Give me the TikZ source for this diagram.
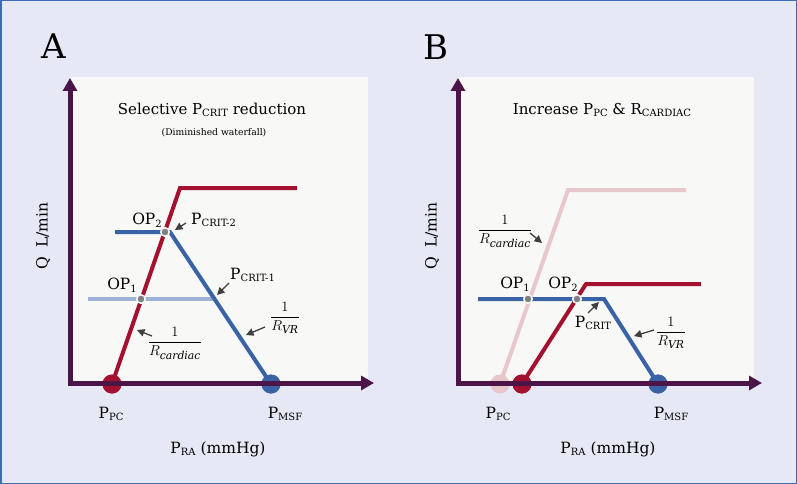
\documentclass[tikz,border=0pt]{standalone}
\usepackage{fontspec}
\setmainfont{DejaVu Serif}
\usepackage{amsmath}
\usetikzlibrary{arrows.meta}
\definecolor{bgc}{HTML}{E6E9F5}
\definecolor{panelc}{HTML}{F8F8F7}
\definecolor{framec}{HTML}{3F6DB3}
\definecolor{axisc}{HTML}{4C1548}
\definecolor{redc}{HTML}{A3112F}
\definecolor{bluec}{HTML}{3A62A7}
\definecolor{lbluec}{HTML}{9DB2D6}
\definecolor{pinkc}{HTML}{E8C7CA}
\definecolor{dotc}{HTML}{808080}
\definecolor{arrc}{HTML}{404040}
\newcommand\lblfont{\fontsize{15.5}{17}\selectfont}
\newcommand\mysub[1]{\raisebox{-0.35ex}{\fontsize{10}{11}\selectfont #1}}
\tikzset{
  axis/.style={draw=axisc, line width=5pt, {Triangle[length=13pt,width=14pt]}-{Triangle[length=13pt,width=14pt]}},
  redline/.style={draw=redc, line width=4pt},
  blueline/.style={draw=bluec, line width=4pt},
  lblueline/.style={draw=lbluec, line width=4pt},
  pinkline/.style={draw=pinkc, line width=4pt},
  bigdot/.style={circle, minimum size=19pt, inner sep=0pt, fill=#1},
  opdot/.style={circle, minimum size=8.5pt, inner sep=0pt, fill=dotc, draw=panelc, line width=1.5pt},
  lbl/.style={font=\lblfont, inner sep=1pt},
  ann/.style={draw=arrc, line width=1.3pt, -{Triangle[length=7.5pt,width=7.5pt]}},
  panel/.style={fill=panelc, draw=none},
}
\begin{document}
\begin{tikzpicture}[x=1pt,y=-1pt]
\useasboundingbox (0,0) rectangle (797,484);
\fill[bgc] (0,0) rectangle (797,484);
\draw[framec, line width=1.5pt] (0.75,0.75) rectangle (796.25,483.25);

% ---------------- Panel A ----------------
\fill[panel] (70,77) rectangle (368,383);
\node[font=\fontsize{34}{36}\selectfont] (labA) at (54,46) {A};
\node[font=\fontsize{15}{17}\selectfont] (titA) at (212,110) {Selective P\mysub{CRIT} reduction};
\node[font=\fontsize{9.2}{11}\selectfont] (subA) at (214,133) {(Diminished waterfall)};
\node[lbl, rotate=90] (yA) at (43,236) {Q\hspace{9pt}L/min};
\node[lbl] (xA) at (218,449) {P\mysub{RA} (mmHg)};

\coordinate (oA) at (70,383);
\coordinate (tyA) at (70,78);
\coordinate (txA) at (374,383);

% curves
\node[bigdot=redc] (ppcA) at (112,384) {};
\node[bigdot=bluec] (pmsfA) at (271,384) {};
\coordinate (rbendA) at (180,188);
\coordinate (rendA) at (297,188);
\coordinate (op2lA) at (115,232);
\coordinate (vrtopA) at (170,232);
\coordinate (op1lA) at (88,299);
\coordinate (pc1A) at (213,299);

\draw[lblueline] (op1lA) -- (pc1A);
\draw[blueline] (op2lA) -- (vrtopA) -- (pmsfA.center);
\draw[redline, line join=miter] (ppcA.center) -- (rbendA) -- (rendA);
\node[bigdot=redc] at (ppcA) {};
\node[bigdot=bluec] at (pmsfA) {};
\draw[axis] (tyA) -- (oA) -- (txA);
\node[opdot] (op2A) at (165,232) {};
\node[opdot] (op1A) at (141,299) {};

% labels
\node[lbl] (lop2A) at (147,220) {OP\mysub{2}};
\node[lbl, anchor=west] (lpc2A) at (190,220) {P\mysub{CRIT-2}};
\draw[ann] (186,223) -- (175,230);
\node[lbl] (lop1A) at (122,285) {OP\mysub{1}};
\node[lbl, anchor=west] (lpc1A) at (229,275) {P\mysub{CRIT-1}};
\draw[ann] (229,283) -- (217,295);
\node[lbl] (lrcA) at (175,343) {$\dfrac{1}{R_{\mathit{cardiac}}}$};
\draw[ann] (152,336) -- (137,330);
\node[lbl] (lrvA) at (285,318) {$\dfrac{1}{R_{\mathit{VR}}}$};
\draw[ann] (265,327) -- (246,335);
\node[lbl] (lppcA) at (111,414) {P\mysub{PC}};
\node[lbl] (lpmsfA) at (285,414) {P\mysub{MSF}};

% ---------------- Panel B ----------------
\fill[panel] (458,77) rectangle (754,383);
\node[font=\fontsize{34}{36}\selectfont] (labB) at (436,47) {B};
\node[font=\fontsize{15}{17}\selectfont] (titB) at (602,110) {Increase P\mysub{PC} \& R\mysub{CARDIAC}};
\node[lbl, rotate=90] (yB) at (432,236) {Q\hspace{9pt}L/min};
\node[lbl] (xB) at (608,449) {P\mysub{RA} (mmHg)};

\coordinate (oB) at (458,383);
\coordinate (tyB) at (458,78);
\coordinate (txB) at (762,383);

\node[bigdot=pinkc] (ppc1B) at (500,384) {};
\node[bigdot=redc] (ppc2B) at (522,384) {};
\node[bigdot=bluec] (pmsfB) at (658,384) {};
\coordinate (pbendB) at (568,190);
\coordinate (pendB) at (686,190);
\coordinate (rbendB) at (586,284);
\coordinate (rendB) at (701,284);
\coordinate (blB) at (478,299);
\coordinate (pcritB) at (604,299);

\draw[pinkline, line join=miter] (ppc1B.center) -- (pbendB) -- (pendB);
\draw[redline, line join=miter] (ppc2B.center) -- (rbendB) -- (rendB);
\draw[blueline] (blB) -- (pcritB) -- (pmsfB.center);
\node[bigdot=pinkc] at (ppc1B) {};
\node[bigdot=redc] at (ppc2B) {};
\node[bigdot=bluec] at (pmsfB) {};
\draw[axis] (tyB) -- (oB) -- (txB);
\node[opdot] (op1B) at (528,299) {};
\node[opdot] (op2B) at (577,299) {};

\node[lbl] (lop1B) at (515,284) {OP\mysub{1}};
\node[lbl] (lop2B) at (563,284) {OP\mysub{2}};
\node[lbl] (lpcB) at (593,323) {P\mysub{CRIT}};
\draw[ann] (588,313) -- (599,302);
\node[lbl] (lrvB) at (671,333) {$\dfrac{1}{R_{\mathit{VR}}}$};
\draw[ann] (654,330) -- (634,336);
\node[lbl] (lrcB) at (505,231) {$\dfrac{1}{R_{\mathit{cardiac}}}$};
\draw[ann] (530,233) -- (542,243);
\node[lbl] (lppcB) at (498,414) {P\mysub{PC}};
\node[lbl] (lpmsfB) at (671,414) {P\mysub{MSF}};
\end{tikzpicture}
\end{document}
